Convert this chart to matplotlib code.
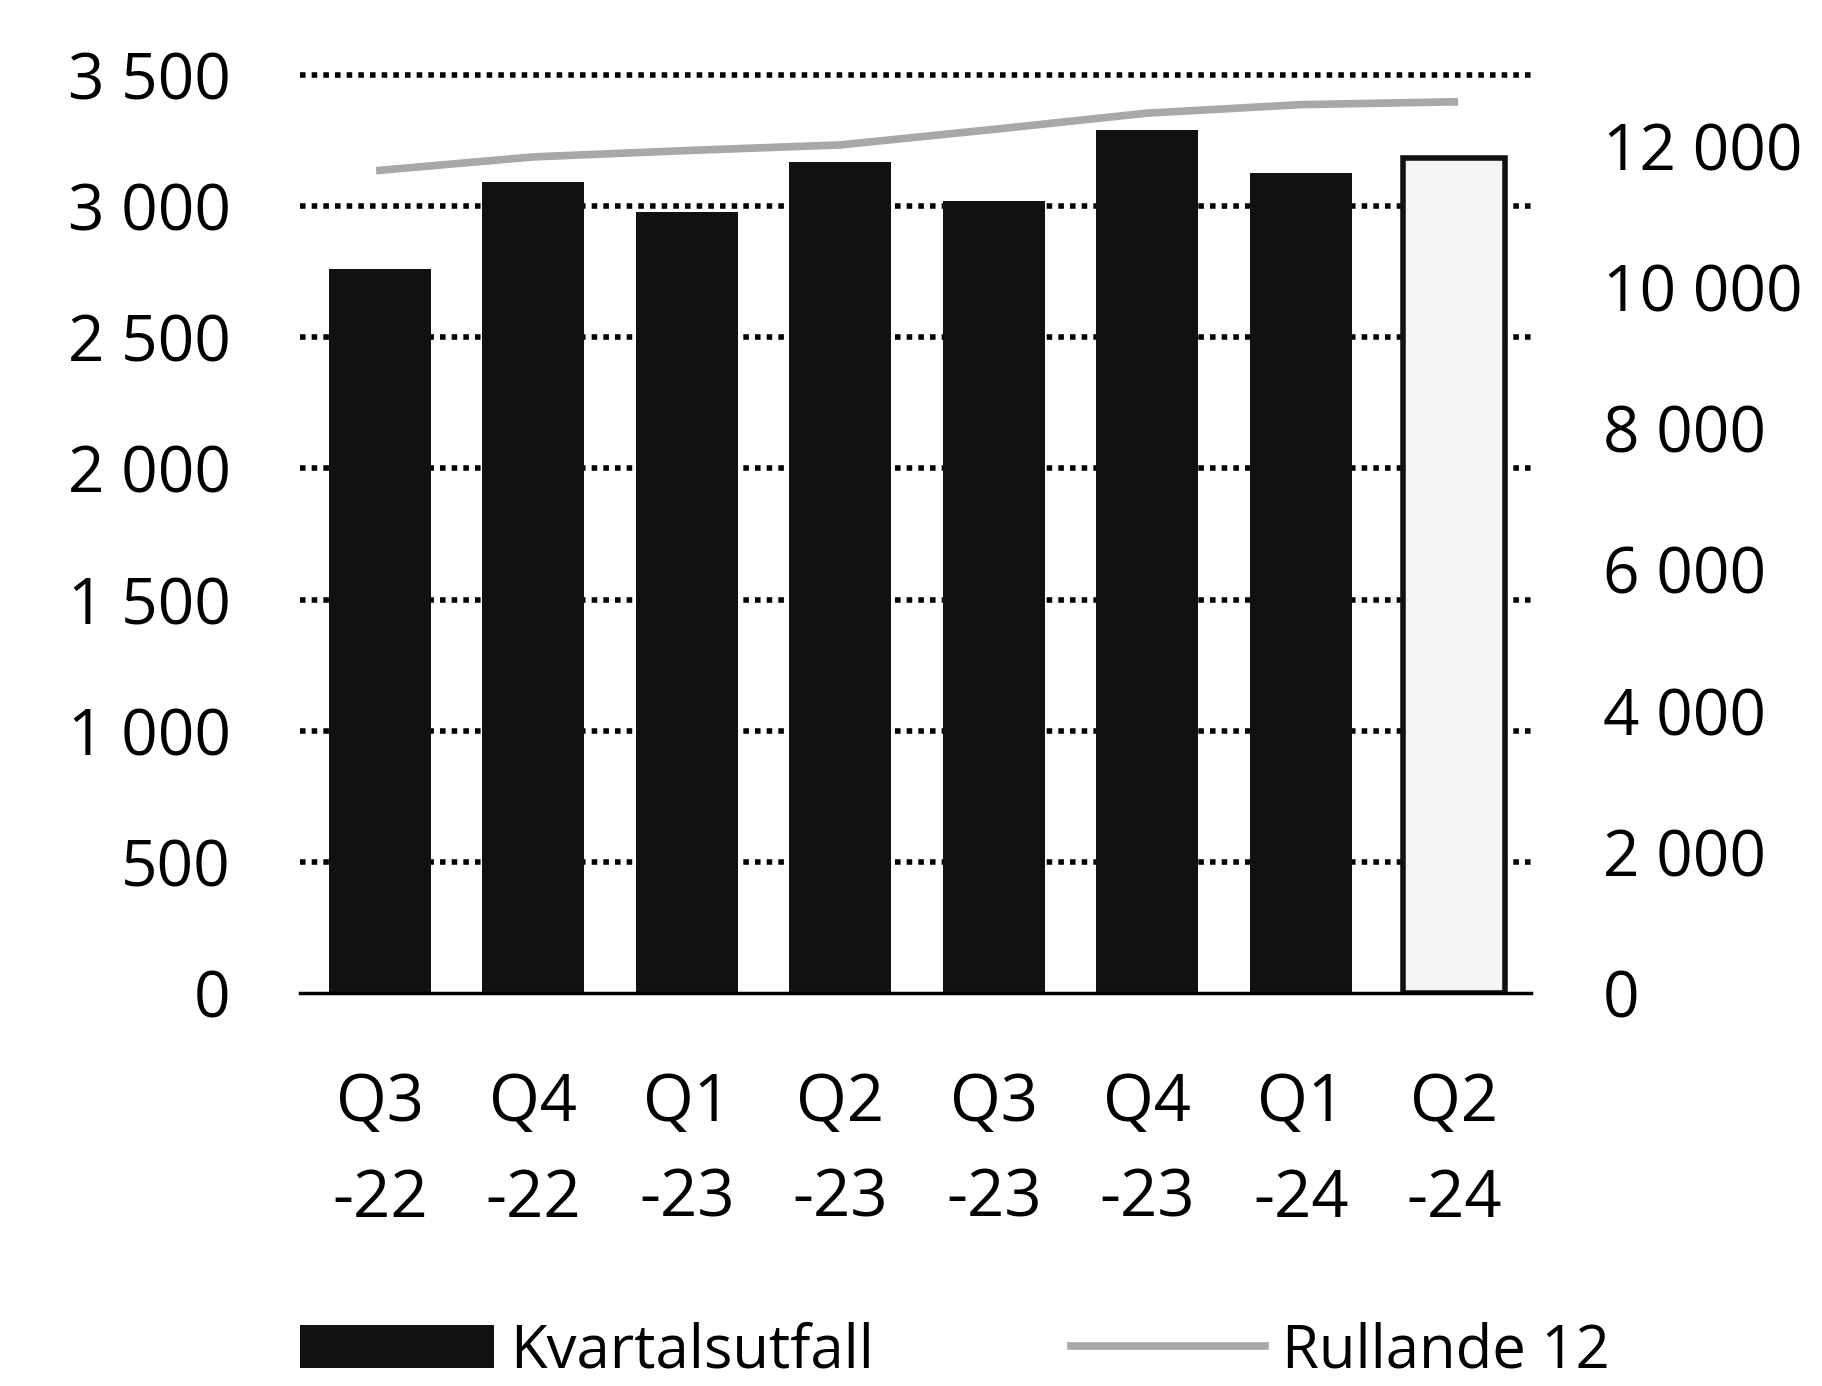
import matplotlib
matplotlib.use('Agg')
import matplotlib.pyplot as plt
import matplotlib.patches as mpatches
from matplotlib.ticker import FuncFormatter
import numpy as np

plt.rcParams['font.family'] = ['Open Sans', 'DejaVu Sans']

# kvartal och värden
quarters = ['Q3\n-22', 'Q4\n-22', 'Q1\n-23', 'Q2\n-23', 'Q3\n-23', 'Q4\n-23', 'Q1\n-24', 'Q2\n-24']
kvartal = [2760, 3092, 2978, 3168, 3018, 3290, 3126, 3183]
rullande = [11650, 11840, 11930, 12010, 12230, 12460, 12580, 12620]
left_ticks = [0, 500, 1000, 1500, 2000, 2500, 3000, 3500]
right_ticks = [0, 2000, 4000, 6000, 8000, 10000, 12000]


def space_fmt(v, pos):
    return f"{int(v):,}".replace(",", " ")


def main() -> int:
    fig = plt.figure(figsize=(18.22, 13.86), dpi=100)
    ax = fig.add_axes([0.1647, 0.2835, 0.6756, 0.6624])

    x = np.arange(len(quarters))
    colors = ['#111111'] * (len(kvartal) - 1) + ['#f4f4f4']
    bars = ax.bar(x, kvartal, 0.665, color=colors, edgecolor='#111111',
                  linewidth=0, zorder=3)
    bars.patches[-1].set_linewidth(4)

    ax.set_xlim(-0.52, 7.5)
    ax.set_ylim(0, 3500)
    ax.set_yticks(left_ticks)
    ax.yaxis.set_major_formatter(FuncFormatter(space_fmt))
    # prickade stödlinjer (ej vid 0)
    for t in left_ticks[1:]:
        ax.axhline(t, color='black', linestyle=(0, (1, 1.1)), linewidth=4,
                   zorder=1, clip_on=False)

    ax.set_xticks(x)
    ax.set_xticklabels(quarters, linespacing=1.6)
    ax.tick_params(axis='x', length=0, pad=56, labelsize=47)
    ax.tick_params(axis='y', length=0, pad=50, labelsize=46)

    for s in ['top', 'left', 'right']:
        ax.spines[s].set_visible(False)
    ax.spines['bottom'].set_linewidth(2.5)
    ax.spines['bottom'].set_zorder(4)

    ax2 = ax.twinx()
    line, = ax2.plot(x, rullande, color='#a8a8a8', linewidth=5.5, zorder=5)
    ax2.set_ylim(0, 13000)
    ax2.set_yticks(right_ticks)
    ax2.yaxis.set_major_formatter(FuncFormatter(space_fmt))
    ax2.tick_params(axis='y', length=0, pad=52, labelsize=46)
    for s in ax2.spines.values():
        s.set_visible(False)

    patch = mpatches.Patch(facecolor='#111111', label='Kvartalsutfall')
    fig.legend(handles=[patch, line], labels=['Kvartalsutfall', 'Rullande 12'],
               loc='center', bbox_to_anchor=(0.524, 0.025), ncol=2,
               frameon=False, fontsize=43, handlelength=3.25,
               handletextpad=0.28, columnspacing=3.3, handleheight=0.72,
               borderaxespad=0, borderpad=0.1)

    fig.savefig('out.png', dpi=100)
    return 0


if __name__ == '__main__':
    main()
